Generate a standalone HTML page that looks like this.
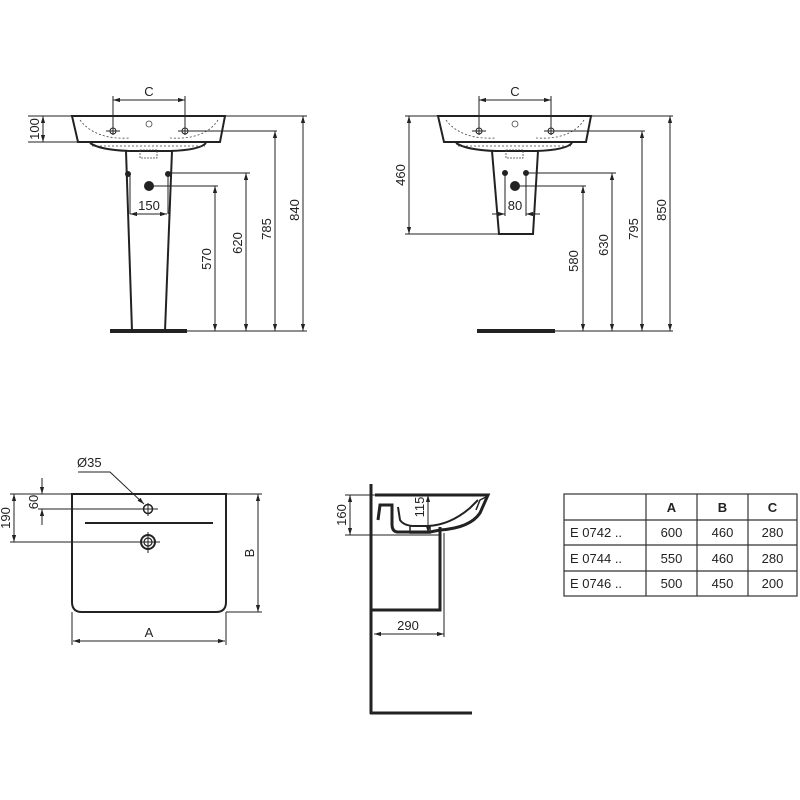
<!DOCTYPE html>
<html><head><meta charset="utf-8"><style>
html,body{margin:0;padding:0;background:#fff;}
svg{display:block;}
text{font-family:"Liberation Sans",Arial,sans-serif;fill:#222;font-weight:normal;}
</style></head><body>
<svg width="800" height="800" viewBox="0 0 800 800" xmlns="http://www.w3.org/2000/svg">
<defs>
<marker id="a" viewBox="0 0 10 10" refX="10" refY="5" markerWidth="7" markerHeight="7" orient="auto-start-reverse"><path d="M0,2 L10,5 L0,8 z" fill="#222"/></marker>
<g id="basin">
  <path d="M72,116 L225,116 L220,142 L78,142 Z" fill="#fff" stroke="#222" stroke-width="2"/>
  <path d="M80,120 Q95,140 130,138 M218,120 Q205,140 170,138" fill="none" stroke="#444" stroke-width="0.8" stroke-dasharray="2,2"/>
  <path d="M90,143 Q100,150 130,151 L170,151 Q200,150 206,143" fill="none" stroke="#222" stroke-width="2"/>
  <line x1="92" y1="146" x2="205" y2="146" stroke="#444" stroke-width="0.8" stroke-dasharray="2,2"/>
  <rect x="140" y="150" width="17" height="8" fill="none" stroke="#444" stroke-width="0.8" stroke-dasharray="2,1"/>
  <circle cx="113" cy="131" r="3" fill="none" stroke="#222" stroke-width="1"/>
  <circle cx="185" cy="131" r="3" fill="none" stroke="#222" stroke-width="1"/>
  <line x1="106" y1="131" x2="120" y2="131" stroke="#222"/><line x1="178" y1="131" x2="192" y2="131" stroke="#222"/>
  <circle cx="149" cy="124" r="3" fill="none" stroke="#444" stroke-width="0.8"/>
  <line x1="113" y1="96" x2="113" y2="135" stroke="#222" stroke-width="1"/>
  <line x1="185" y1="96" x2="185" y2="135" stroke="#222" stroke-width="1"/>
  <line x1="113" y1="100" x2="185" y2="100" stroke="#222" stroke-width="1" marker-start="url(#a)" marker-end="url(#a)"/>
  <text x="149" y="96" font-size="13" text-anchor="middle" stroke="none" font-weight="normal">C</text>
</g>
</defs>
<g stroke="#222" fill="none">
<use href="#basin"/>
<path d="M126,151 L132,331 M172,151 L165,331" stroke-width="2"/>
<line x1="110" y1="331" x2="187" y2="331" stroke-width="4"/>
<line x1="130" y1="173" x2="130" y2="214" stroke-width="1"/>
<line x1="168" y1="173" x2="168" y2="214" stroke-width="1"/>
<circle cx="128" cy="174" r="2.5" fill="#222"/><circle cx="168" cy="174" r="2.5" fill="#222"/>
<circle cx="149" cy="186" r="4.5" fill="#222"/>
<line x1="130" y1="214" x2="167" y2="214" stroke-width="1" marker-start="url(#a)" marker-end="url(#a)"/>
<g stroke-width="1">
<line x1="28" y1="116" x2="307" y2="116"/><line x1="28" y1="142" x2="78" y2="142"/>
<line x1="43" y1="116" x2="43" y2="142" marker-start="url(#a)" marker-end="url(#a)"/>
<line x1="185" y1="131" x2="277" y2="131"/>
<line x1="168" y1="173" x2="250" y2="173"/>
<line x1="150" y1="186" x2="218" y2="186"/>
<line x1="187" y1="331" x2="307" y2="331"/>
<line x1="303" y1="116" x2="303" y2="331" marker-start="url(#a)" marker-end="url(#a)"/>
<line x1="275" y1="131" x2="275" y2="331" marker-start="url(#a)" marker-end="url(#a)"/>
<line x1="246" y1="173" x2="246" y2="331" marker-start="url(#a)" marker-end="url(#a)"/>
<line x1="215" y1="186" x2="215" y2="331" marker-start="url(#a)" marker-end="url(#a)"/>
</g>
<use href="#basin" transform="translate(366,0)"/>
<path d="M492,151 L499,234 L533,234 L538,151" stroke-width="2"/>
<line x1="477" y1="331" x2="555" y2="331" stroke-width="4"/>
<circle cx="505" cy="173" r="2.5" fill="#222"/><circle cx="526" cy="173" r="2.5" fill="#222"/>
<circle cx="515" cy="186" r="4.5" fill="#222"/>
<g stroke-width="1">
<line x1="505" y1="173" x2="505" y2="216"/><line x1="526" y1="173" x2="526" y2="216"/>
<line x1="492" y1="214" x2="505" y2="214" marker-end="url(#a)"/>
<line x1="540" y1="214" x2="526" y2="214" marker-end="url(#a)"/>
<line x1="405" y1="116" x2="673" y2="116"/>
<line x1="405" y1="234" x2="500" y2="234"/>
<line x1="409" y1="116" x2="409" y2="234" marker-start="url(#a)" marker-end="url(#a)"/>
<line x1="551" y1="131" x2="645" y2="131"/>
<line x1="526" y1="173" x2="616" y2="173"/>
<line x1="515" y1="186" x2="586" y2="186"/>
<line x1="555" y1="331" x2="673" y2="331"/>
<line x1="670" y1="116" x2="670" y2="331" marker-start="url(#a)" marker-end="url(#a)"/>
<line x1="642" y1="131" x2="642" y2="331" marker-start="url(#a)" marker-end="url(#a)"/>
<line x1="612" y1="173" x2="612" y2="331" marker-start="url(#a)" marker-end="url(#a)"/>
<line x1="583" y1="186" x2="583" y2="331" marker-start="url(#a)" marker-end="url(#a)"/>
</g>
<path d="M72,494 L226,494 L226,602 Q226,612 216,612 L82,612 Q72,612 72,602 Z" stroke-width="2"/>
<line x1="85" y1="523" x2="213" y2="523" stroke-width="2"/>
<circle cx="148" cy="509" r="4.5" stroke-width="1.5"/>
<circle cx="148" cy="542" r="7" stroke-width="2"/><circle cx="148" cy="542" r="4" stroke-width="1.2"/>
<g stroke-width="1">
<line x1="140" y1="509" x2="158" y2="509"/><line x1="148" y1="503" x2="148" y2="516"/>
<line x1="138" y1="542" x2="160" y2="542"/><line x1="148" y1="532" x2="148" y2="553"/>
<line x1="10" y1="494" x2="72" y2="494"/><line x1="226" y1="494" x2="262" y2="494"/>
<line x1="10" y1="542" x2="140" y2="542"/><line x1="38" y1="509" x2="140" y2="509"/>
<line x1="14" y1="494" x2="14" y2="542" marker-start="url(#a)" marker-end="url(#a)"/>
<line x1="42" y1="478" x2="42" y2="494" marker-end="url(#a)"/>
<line x1="42" y1="525" x2="42" y2="509" marker-end="url(#a)"/>
<line x1="226" y1="612" x2="262" y2="612"/>
<line x1="258" y1="494" x2="258" y2="612" marker-start="url(#a)" marker-end="url(#a)"/>
<line x1="72" y1="612" x2="72" y2="645"/><line x1="226" y1="612" x2="226" y2="645"/>
<line x1="73" y1="641" x2="225" y2="641" marker-start="url(#a)" marker-end="url(#a)"/>
<polyline points="78,472 110,472 144,504" marker-end="url(#a)"/>
</g>
<line x1="371" y1="484" x2="371" y2="714" stroke-width="3"/>
<line x1="370" y1="713" x2="472" y2="713" stroke-width="3"/>
<path d="M371,610 L440,610 L440,527" stroke-width="3"/>
<path d="M375,495 L488,495 L480,513 Q470,528 440,530 L430,532 L398,532 Q392,532 392,524 L392,505 L380,505 L378,520" stroke-width="3"/>
<path d="M398,507 L400,520 Q404,526 415,526 L428,526 Q450,525 470,508 L478,500" stroke-width="2"/>
<path d="M476,510 L480,500 L488,496" stroke-width="1.5"/>
<rect x="410" y="526" width="20" height="7" stroke-width="1.5"/>
<g stroke-width="1">
<line x1="345" y1="495" x2="375" y2="495"/><line x1="345" y1="535" x2="440" y2="535"/>
<line x1="350" y1="495" x2="350" y2="535" marker-start="url(#a)" marker-end="url(#a)"/>
<line x1="428" y1="495" x2="428" y2="533" marker-start="url(#a)" marker-end="url(#a)"/>
<line x1="444" y1="533" x2="444" y2="637"/>
<line x1="374" y1="634" x2="444" y2="634" marker-start="url(#a)" marker-end="url(#a)"/>
</g>
<g stroke-width="1.2" stroke="#333">
<rect x="564" y="494" width="233" height="102"/>
<line x1="564" y1="520" x2="797" y2="520"/><line x1="564" y1="545" x2="797" y2="545"/><line x1="564" y1="571" x2="797" y2="571"/>
<line x1="646" y1="494" x2="646" y2="596"/><line x1="697" y1="494" x2="697" y2="596"/><line x1="748" y1="494" x2="748" y2="596"/>
</g>
</g>
<g font-size="13">
<text transform="translate(39,129) rotate(-90)" text-anchor="middle">100</text>
<text x="149" y="210" text-anchor="middle">150</text>
<text transform="translate(211,259) rotate(-90)" text-anchor="middle">570</text>
<text transform="translate(242,243) rotate(-90)" text-anchor="middle">620</text>
<text transform="translate(271,229) rotate(-90)" text-anchor="middle">785</text>
<text transform="translate(299,210) rotate(-90)" text-anchor="middle">840</text>
<text transform="translate(405,175) rotate(-90)" text-anchor="middle">460</text>
<text x="515" y="210" text-anchor="middle">80</text>
<text transform="translate(578,261) rotate(-90)" text-anchor="middle">580</text>
<text transform="translate(608,245) rotate(-90)" text-anchor="middle">630</text>
<text transform="translate(638,229) rotate(-90)" text-anchor="middle">795</text>
<text transform="translate(666,210) rotate(-90)" text-anchor="middle">850</text>
<text x="77" y="467">Ø35</text>
<text transform="translate(10,518) rotate(-90)" text-anchor="middle">190</text>
<text transform="translate(38,502) rotate(-90)" text-anchor="middle">60</text>
<text transform="translate(254,553) rotate(-90)" text-anchor="middle">B</text>
<text x="149" y="637" text-anchor="middle">A</text>
<text transform="translate(346,515) rotate(-90)" text-anchor="middle">160</text>
<text transform="translate(424,507) rotate(-90)" text-anchor="middle">115</text>
<text x="408" y="630" text-anchor="middle">290</text>
<text x="671.5" y="512" text-anchor="middle" font-weight="bold" style="font-weight:bold">A</text>
<text x="722.5" y="512" text-anchor="middle" style="font-weight:bold">B</text>
<text x="772.5" y="512" text-anchor="middle" style="font-weight:bold">C</text>
<text x="570" y="537">E 0742 ..</text><text x="671.5" y="537" text-anchor="middle">600</text><text x="722.5" y="537" text-anchor="middle">460</text><text x="772.5" y="537" text-anchor="middle">280</text>
<text x="570" y="563">E 0744 ..</text><text x="671.5" y="563" text-anchor="middle">550</text><text x="722.5" y="563" text-anchor="middle">460</text><text x="772.5" y="563" text-anchor="middle">280</text>
<text x="570" y="588">E 0746 ..</text><text x="671.5" y="588" text-anchor="middle">500</text><text x="722.5" y="588" text-anchor="middle">450</text><text x="772.5" y="588" text-anchor="middle">200</text>
</g>
</svg>
</body></html>
